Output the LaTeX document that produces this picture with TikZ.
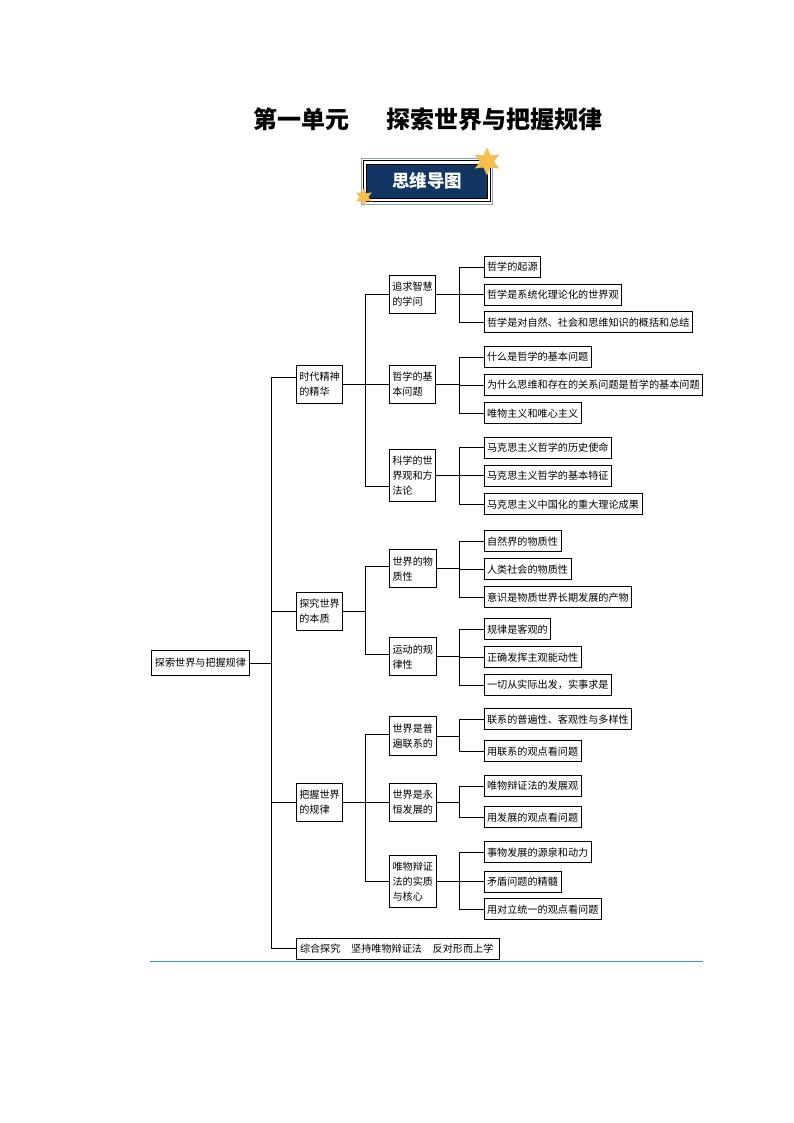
\documentclass[tikz,border=0pt]{standalone}
\usepackage{fontspec}
\setmainfont{Noto Sans CJK SC}
\usetikzlibrary{shapes.geometric}
\definecolor{navy}{HTML}{123663}
\definecolor{gold}{HTML}{F7BE4F}
\definecolor{rulecol}{HTML}{2FA5A5}
\definecolor{framecol}{HTML}{8FA3A8}
\tikzset{
  wire/.style={draw=black,line width=1pt},
  leaf/.style={draw,line width=1pt,anchor=west,minimum height=21pt,inner xsep=3.1pt,inner ysep=0pt,font=\fontsize{10.12}{12}\selectfont},
  mid/.style={draw,line width=1pt,align=left,minimum width=46.4pt,minimum height=38.3pt,inner xsep=2pt,inner ysep=2pt,font=\fontsize{10.12}{15}\selectfont},
  midtall/.style={mid,minimum height=52.4pt},
  goldstar/.style={star,star points=6,star point ratio=2,fill=gold,draw=gold!80!orange,line width=0.3pt,inner sep=0pt},
}
\begin{document}
\begin{tikzpicture}[x=1pt,y=-1pt]
\useasboundingbox (0,0) rectangle (794,1123);

\node[name=title,font=\fontsize{24}{28}\selectfont\bfseries] at (428,119) {第一单元\hspace{37pt}探索世界与把握规律};

% badge
\node[name=frameA,draw=framecol,line width=0.6pt,minimum width=131.5pt,minimum height=45.5pt] at (427,181.2) {};
\node[name=frameB,draw=black,line width=0.8pt,minimum width=127pt,minimum height=41pt] at (427,181.2) {};
\node[name=badge,fill=navy,draw=black,line width=0.6pt,text=white,minimum width=121.5pt,minimum height=34.5pt,font=\fontsize{17.5}{20}\selectfont\bfseries] at (427,181.2) {思维导图};
\node[goldstar,name=starA,minimum size=27pt] at (487,161.5) {};
\node[goldstar,name=starB,minimum size=17pt] at (364,197) {};

% root and first level
\node[leaf,name=root,minimum height=25pt] at (151.3,663) {探索世界与把握规律};
\node[mid,name=era] at (319.5,384.3) {时代精神\\的精华};
\node[mid,name=essence] at (319.5,611.3) {探究世界\\的本质};
\node[mid,name=law] at (319.5,802.5) {把握世界\\的规律};
\node[leaf,name=synth] at (296.4,948.5) {综合探究\hspace{10.7pt}坚持唯物辩证法\hspace{10.7pt}反对形而上学\kern3pt};

% second level
\node[mid,name=wisdom] at (412.6,294.3) {追求智慧\\的学问};
\node[mid,name=basic] at (412.6,384.3) {哲学的基\\本问题};
\node[midtall,name=science] at (412.6,475.5) {科学的世\\界观和方\\法论};
\node[mid,name=matter] at (412.8,568.8) {世界的物\\质性};
\node[mid,name=motion] at (412.8,656.7) {运动的规\\律性};
\node[mid,name=linked] at (412.8,736) {世界是普\\遍联系的};
\node[mid,name=growth] at (412.8,802.5) {世界是永\\恒发展的};
\node[midtall,name=core] at (412.8,881.5) {唯物辩证\\法的实质\\与核心};

% leaves
\node[leaf,name=a1] at (483.5,267) {哲学的起源};
\node[leaf,name=a2] at (483.5,294.7) {哲学是系统化理论化的世界观};
\node[leaf,name=a3] at (483.5,322.3) {哲学是对自然、社会和思维知识的概括和总结};
\node[leaf,name=b1] at (483.5,357) {什么是哲学的基本问题};
\node[leaf,name=b2] at (483.5,385) {为什么思维和存在的关系问题是哲学的基本问题};
\node[leaf,name=b3] at (483.5,413.3) {唯物主义和唯心主义};
\node[leaf,name=c1] at (483.5,447.8) {马克思主义哲学的历史使命};
\node[leaf,name=c2] at (483.5,475.8) {马克思主义哲学的基本特征};
\node[leaf,name=c3] at (483.5,504.2) {马克思主义中国化的重大理论成果};
\node[leaf,name=d1] at (483.5,541.3) {自然界的物质性};
\node[leaf,name=d2] at (483.5,569.3) {人类社会的物质性};
\node[leaf,name=d3] at (483.5,597.2) {意识是物质世界长期发展的产物};
\node[leaf,name=e1] at (483.5,629.3) {规律是客观的};
\node[leaf,name=e2] at (483.5,657.3) {正确发挥主观能动性};
\node[leaf,name=e3] at (483.5,685.2) {一切从实际出发，实事求是};
\node[leaf,name=f1] at (483.5,719.3) {联系的普遍性、客观性与多样性};
\node[leaf,name=f2] at (483.5,751.2) {用联系的观点看问题};
\node[leaf,name=g1] at (483.5,786) {唯物辩证法的发展观};
\node[leaf,name=g2] at (483.5,817.3) {用发展的观点看问题};
\node[leaf,name=h1] at (483.5,852.2) {事物发展的源泉和动力};
\node[leaf,name=h2] at (483.5,881.7) {矛盾问题的精髓};
\node[leaf,name=h3] at (483.5,909.3) {用对立统一的观点看问题};

% connectors
\draw[wire] (root.east) -- ++(22.3,0) |- ([yshift=7pt]era.west);
\foreach \kid in {essence,law,synth}
  \draw[wire] (root.east) -- ++(22.3,0) |- (\kid.west);

\draw[wire] (era.east) -- ++(22.6,0) |- (wisdom.west);
\draw[wire] (era.east) -- (basic.west);
\draw[wire] (era.east) -- ++(22.6,0) |- ([yshift=-10.5pt]science.west);
\draw[wire] (essence.east) -- ++(22.6,0) |- ([yshift=2pt]matter.west);
\draw[wire] (essence.east) -- ++(22.6,0) |- ([yshift=2.4pt]motion.west);
\draw[wire] (law.east) -- ++(22.6,0) |- ([yshift=1.7pt]linked.west);
\draw[wire] (law.east) -- (growth.west);
\draw[wire] (law.east) -- ++(22.6,0) |- (core.west);

\foreach \from/\kids in {wisdom/{a1,a2,a3},basic/{b1,b2,b3},science/{c1,c2,c3},matter/{d1,d2,d3},motion/{e1,e2,e3},linked/{f1,f2},growth/{g1,g2},core/{h1,h2,h3}}
  \foreach \kid in \kids
    \draw[wire] (\from.east) -- ++(22.7,0) |- (\kid.west);

% bottom rule
\coordinate (ruleL) at (150,961);
\coordinate (ruleR) at (703,961);
\draw[draw=rulecol,line width=1pt] (ruleL) -- (ruleR);
\end{tikzpicture}
\end{document}
